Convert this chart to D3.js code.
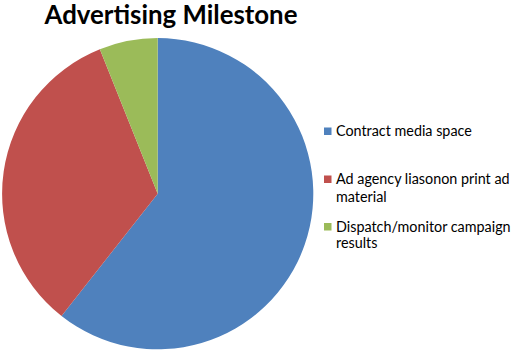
<!DOCTYPE html>
<html><head><meta charset="utf-8">
<script src="https://cdn.jsdelivr.net/npm/d3@7"></script>
<style>html,body{margin:0;padding:0;background:#fff;overflow:hidden}</style>
</head><body>
<svg id="c" width="516" height="356"></svg>
<script>
const categories = ["Contract media space", "Ad agency liasonon print ad material", "Dispatch/monitor campaign results"];
const values = [10, 5.5, 1];
const legendLines = [["Contract media space"], ["Ad agency liasonon print ad", "material"], ["Dispatch/monitor campaign", "results"]];
const colors = ["#4F81BD", "#C0504D", "#9BBB59"];
const title = "Advertising Milestone";

const svg = d3.select("#c");
const cx = 157.7, cy = 193.7, r = 155.6;
const pie = d3.pie().sort(null).value(d => d)(values);
const arc = d3.arc().innerRadius(0).outerRadius(r);
const color = d3.scaleOrdinal().domain(categories).range(colors);

svg.append("g").attr("transform", `translate(${cx},${cy})`)
  .selectAll("path").data(pie).enter().append("path")
  .attr("d", arc).attr("fill", (d, i) => color(categories[i]));

const font = "Lato, Carlito, Calibri, sans-serif";
const t = svg.append("text").text(title).attr("x", 171).attr("y", 24)
  .attr("text-anchor", "middle").attr("font-family", font).attr("font-weight", "bold")
  .attr("font-size", 25).attr("fill", "#000");
const tw = t.node().getComputedTextLength();
t.attr("font-size", 25 * 253 / tw);

const lg = svg.append("g");
const baselines = [[136], [184, 201.5], [231.5, 248]];
const probe = lg.append("text").attr("font-family", font).attr("font-size", 13).text("Contract media space");
const fs = 13 * 136 / probe.node().getComputedTextLength();
probe.remove();
legendLines.forEach((lines, i) => {
  lg.append("rect").attr("x", 324).attr("y", baselines[i][0] - 8.5).attr("width", 7.5).attr("height", 7.5)
    .attr("fill", color(categories[i]));
  lines.forEach((ln, j) => {
    lg.append("text").attr("x", 336).attr("y", baselines[i][j]).attr("font-family", font)
      .attr("font-size", fs).attr("fill", "#000").text(ln);
  });
});
</script>
</body></html>
